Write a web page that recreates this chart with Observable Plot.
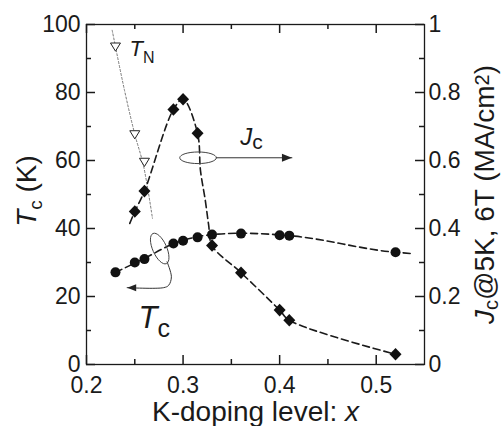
<!DOCTYPE html>
<html><head><meta charset="utf-8">
<script src="https://cdn.jsdelivr.net/npm/d3@7"></script>
<script src="https://cdn.jsdelivr.net/npm/@observablehq/plot@0.6"></script>
<style>
body{margin:0;background:#fff;}
</style></head><body><div id="chart"></div>
<script>
// ---- data ----
const tcX  = [0.23, 0.25, 0.26, 0.29, 0.30, 0.315, 0.33, 0.36, 0.40, 0.41, 0.52];
const tcK  = [27.1, 30.0, 31.0, 35.6, 36.4, 37.4, 38.2, 38.5, 38.0, 37.9, 33.0];
const jcX  = [0.25, 0.26, 0.29, 0.30, 0.315, 0.33, 0.36, 0.40, 0.41, 0.52];
const jcMA = [0.45, 0.51, 0.75, 0.78, 0.68, 0.35, 0.27, 0.16, 0.13, 0.03];
const tnX  = [0.23, 0.25, 0.26];
const tnK  = [93.5, 67.7, 59.6];

// guide curves (as drawn in the picture)
const tcFitX = [0.23, 0.26, 0.29, 0.33, 0.36, 0.41, 0.52, 0.5385];
const tcFitK = [27.1, 31.2, 35.5, 38.2, 38.6, 37.9, 33.0, 32.6];
const jcFitX  = [0.2448, 0.25, 0.26, 0.29, 0.30, 0.315, 0.318, 0.323, 0.3265, 0.33, 0.36, 0.40, 0.41, 0.52];
const jcFitMA = [0.415, 0.45, 0.51, 0.75, 0.78, 0.68, 0.571, 0.483, 0.41, 0.35, 0.27, 0.16, 0.13, 0.03];
const tnFitX = [0.2266, 0.2393, 0.25, 0.2589, 0.2683];
const tnFitK = [98.3, 80.7, 67.7, 58.6, 43.0];

// scales and ticks
const xDomain = [0.2, 0.55];
const tcDomain = [0, 100];
const xTicks = [0.2, 0.3, 0.4, 0.5];
const xMinorTicks = [0.25, 0.35, 0.45];
const tcTicks = [0, 20, 40, 60, 80, 100];
const tcMinorTicks = [10, 30, 50, 70, 90];
const jcTicks = [0, 0.2, 0.4, 0.6, 0.8, 1];
const jcMinorTicks = [0.1, 0.3, 0.5, 0.7, 0.9];
const JC_SCALE = 100; // 1 MA/cm2 on the right axis sits at 100 K on the left axis

// annotations (left-axis units)
const jcLoopX = [0.3155], jcLoopK = [60.8];
const tcLoopX = [0.2758], tcLoopK = [34.1];
const jcArrowX = [0.3344, 0.4127], jcArrowK = [60.8, 60.8];
const tcArrowX = [0.2834, 0.2879, 0.2851, 0.2799, 0.2421], tcArrowK = [30.2, 25.8, 23.3, 22.6, 22.6];
const tnLabel = {x: 0.2445, k: 90.7, text: "TN"};
const jcLabel = {x: 0.3593, k: 64.5, text: "Jc"};
const tcLabel = {x: 0.2538, k: 10.6, text: "Tc"};

const rows = (xs, ys, f = 1) => xs.map((x, i) => ({x, y: ys[i] * f}));

// ---- custom symbols ----
function ellipseSym(rx, ry, deg) {
  const a = deg * Math.PI / 180, c = Math.cos(a), s = Math.sin(a), k = 0.5523;
  const P = (x, y) => [x * c - y * s, x * s + y * c];
  return {draw(ctx) {
    const pts = [
      [rx, 0], [rx, ry*k], [rx*k, ry], [0, ry], [-rx*k, ry], [-rx, ry*k], [-rx, 0],
      [-rx, -ry*k], [-rx*k, -ry], [0, -ry], [rx*k, -ry], [rx, -ry*k], [rx, 0]
    ].map(p => P(p[0], p[1]));
    ctx.moveTo(...pts[0]);
    for (let i = 1; i < pts.length; i += 3) ctx.bezierCurveTo(...pts[i], ...pts[i+1], ...pts[i+2]);
    ctx.closePath();
  }};
}
const diamondSym = {draw(ctx) { ctx.moveTo(0, -6.3); ctx.lineTo(6, 0); ctx.lineTo(0, 6.3); ctx.lineTo(-6, 0); ctx.closePath(); }};
const downTriSym = {draw(ctx) { ctx.moveTo(-5, -3.6); ctx.lineTo(5, -3.6); ctx.lineTo(0, 4.6); ctx.closePath(); }};
const headRight = {draw(ctx) { ctx.moveTo(0, 0); ctx.lineTo(-10, -4); ctx.lineTo(-10, 4); ctx.closePath(); }};
const headLeft  = {draw(ctx) { ctx.moveTo(0, 0); ctx.lineTo(9, -3.5); ctx.lineTo(9, 3.5); ctx.closePath(); }};

const W = 502, H = 426, ML = 86, MR = 78, MT = 24, MB = 62;
const font = '"Liberation Sans", Arial, sans-serif';
const ink = "#1a1a1a";
const MAJ = 9, MIN = 5; // inward tick lengths in pixels
// pixel lengths expressed in scale units, for rule marks
const xPerPx = (xDomain[1] - xDomain[0]) / (W - ML - MR);
const kPerPx = (tcDomain[1] - tcDomain[0]) / (H - MT - MB);
const tickStyle = {stroke: ink, strokeWidth: 1.5};

const xTickRules = (ticks, len) => [
  Plot.ruleX(ticks, {x: d => d, y1: tcDomain[0], y2: tcDomain[0] + len * kPerPx, ...tickStyle}),
  Plot.ruleX(ticks, {x: d => d, y1: tcDomain[1] - len * kPerPx, y2: tcDomain[1], ...tickStyle})
];
const yTickRules = (ticks, len) => [
  Plot.ruleY(ticks, {y: d => d, x1: xDomain[0], x2: xDomain[0] + len * xPerPx, ...tickStyle}),
  Plot.ruleY(ticks, {y: d => d, x1: xDomain[1] - len * xPerPx, x2: xDomain[1], ...tickStyle})
];

const chart = Plot.plot({
  width: W, height: H,
  marginLeft: ML, marginRight: MR, marginTop: MT, marginBottom: MB,
  style: {fontFamily: font, fontSize: "23px", color: ink, background: "#fff", overflow: "visible"},
  x: {domain: xDomain, axis: null},
  y: {domain: tcDomain, axis: null},
  marks: [
    Plot.frame({stroke: ink, strokeWidth: 1.3}),
    // tick labels
    Plot.axisX(xTicks, {anchor: "bottom", tickSize: 0, tickPadding: 12, tickFormat: d => String(d), label: null, fontSize: 23}),
    Plot.axisY(tcTicks, {anchor: "left", tickSize: 0, tickPadding: 6, tickFormat: d => String(d), label: null, fontSize: 23}),
    Plot.axisY(jcTicks.map(v => v * JC_SCALE), {anchor: "right", tickSize: 0, tickPadding: 4,
      tickFormat: d => String(+(d / JC_SCALE).toFixed(1)), label: null, fontSize: 23}),
    // axis titles
    Plot.text(["Tc (K)"], {frameAnchor: "left", dx: -51, dy: -3.5, rotate: -90, textAnchor: "middle", lineAnchor: "bottom", fontSize: 28, fill: ink}),
    Plot.text(["Jc@5K, 6T (MA/cm2)"], {frameAnchor: "right", dx: 69, rotate: -90, textAnchor: "middle", lineAnchor: "bottom", fontSize: 28, fill: ink}),
    Plot.text(["K-doping level: x"], {frameAnchor: "bottom", dy: 56, textAnchor: "middle", lineAnchor: "bottom", fontSize: 28, fill: ink}),
    // guide curves
    Plot.line(rows(tnFitX, tnFitK), {x: "x", y: "y", curve: "catmull-rom", stroke: "#777", strokeWidth: 1, strokeDasharray: "2,2"}),
    Plot.line(rows(jcFitX, jcFitMA, JC_SCALE), {x: "x", y: "y", curve: "catmull-rom", stroke: ink, strokeWidth: 1.6, strokeDasharray: "7,4"}),
    Plot.line(rows(tcFitX, tcFitK), {x: "x", y: "y", curve: "monotone-x", stroke: ink, strokeWidth: 1.6, strokeDasharray: "7,4"}),
    // annotation loops and arrows
    Plot.dot(rows(jcLoopX, jcLoopK), {x: "x", y: "y", symbol: ellipseSym(18.3, 5.8, 0), fill: "none", stroke: "#444", strokeWidth: 1}),
    Plot.dot(rows(tcLoopX, tcLoopK), {x: "x", y: "y", symbol: ellipseSym(7, 16.5, -24), fill: "none", stroke: "#444", strokeWidth: 1}),
    Plot.line(rows(jcArrowX, jcArrowK), {x: "x", y: "y", stroke: "#333", strokeWidth: 1}),
    Plot.line(rows(tcArrowX, tcArrowK), {x: "x", y: "y", curve: "catmull-rom", stroke: "#333", strokeWidth: 1}),
    Plot.dot(rows(jcArrowX.slice(-1), jcArrowK.slice(-1)), {x: "x", y: "y", symbol: headRight, fill: "#222"}),
    Plot.dot(rows(tcArrowX.slice(-1), tcArrowK.slice(-1)), {x: "x", y: "y", symbol: headLeft, fill: "#222"}),
    // data markers
    Plot.dot(rows(tnX, tnK), {x: "x", y: "y", symbol: downTriSym, fill: "#fff", stroke: "#222", strokeWidth: 1}),
    Plot.dot(rows(tcX, tcK), {x: "x", y: "y", symbol: "circle", r: 5, fill: "#111"}),
    Plot.dot(rows(jcX, jcMA, JC_SCALE), {x: "x", y: "y", symbol: diamondSym, fill: "#111"}),
    // annotation labels
    Plot.text([tnLabel], {x: "x", y: "k", text: "text", textAnchor: "start", lineAnchor: "bottom", fontSize: 22, fill: ink}),
    Plot.text([jcLabel], {x: "x", y: "k", text: "text", textAnchor: "start", lineAnchor: "bottom", fontSize: 24, fill: ink}),
    Plot.text([tcLabel], {x: "x", y: "k", text: "text", textAnchor: "start", lineAnchor: "bottom", fontSize: 31, fill: ink}),
    // inward ticks on all four sides (drawn last, as rules through the scales)
    ...xTickRules(xTicks, MAJ),
    ...xTickRules(xMinorTicks, MIN),
    ...yTickRules(tcTicks, MAJ).slice(0, 1),
    ...yTickRules(tcMinorTicks, MIN).slice(0, 1),
    ...yTickRules(jcTicks.map(v => v * JC_SCALE), MAJ).slice(1),
    ...yTickRules(jcMinorTicks.map(v => v * JC_SCALE), MIN).slice(1)
  ]
});

// rich text (italics, sub/superscripts)
const richParts = {
  "TN": [{t: "T", i: 1}, {t: "N", size: 16, shift: 7.3}],
  "Jc": [{t: "J", i: 1}, {t: "c", size: 21, shift: 3.5}],
  "Tc": [{t: "T", i: 1}, {t: "c", size: 25, shift: 8.4}],
  "Tc (K)": [{t: "T", i: 1}, {t: "c", size: 19, shift: 6}, {t: " (K)", shift: 0}],
  "Jc@5K, 6T (MA/cm2)": [{t: "J", i: 1}, {t: "c", size: 20, shift: 4}, {t: "@5K, 6T (MA/cm", shift: 0},
                         {t: "2", size: 20, shift: -5}, {t: ")", shift: 0}],
  "K-doping level: x": [{t: "K-doping level: "}, {t: "x", i: 1}]
};
function rich(el, parts) {
  el.textContent = "";
  let cur = 0;
  for (const p of parts) {
    const ts = document.createElementNS("http://www.w3.org/2000/svg", "tspan");
    ts.textContent = p.t;
    if (p.i) ts.setAttribute("font-style", "italic");
    if (p.size) ts.setAttribute("font-size", p.size);
    const target = p.shift || 0;
    if (target !== cur) { ts.setAttribute("dy", target - cur); cur = target; }
    el.appendChild(ts);
  }
}
chart.querySelectorAll("text").forEach(el => {
  const parts = richParts[el.textContent];
  if (parts) rich(el, parts);
});
document.getElementById("chart").append(chart);
</script>
</body></html>
